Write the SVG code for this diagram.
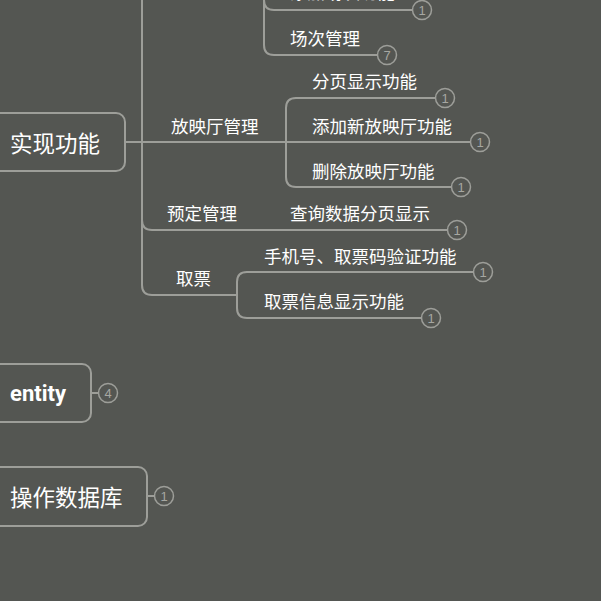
<svg xmlns="http://www.w3.org/2000/svg" width="601" height="601" viewBox="0 0 601 601">
<style>
.ln{fill:none;stroke:#9d9e99;stroke-width:2;stroke-linecap:round;stroke-linejoin:round}
.node{fill:#545652;stroke:#9d9e99;stroke-width:2}
.cnt{fill:#545652;stroke:#9d9e99;stroke-width:1.5}
.num{fill:#a6a7a2;font-family:"Liberation Sans",Arial,sans-serif;font-size:13px;text-anchor:middle;dominant-baseline:central}
.lbl{fill:#ffffff;font-family:"Noto Sans CJK SC","Microsoft YaHei",sans-serif;font-size:17.5px;dominant-baseline:central}
.big{fill:#ffffff;font-family:"Noto Sans CJK SC","Microsoft YaHei",sans-serif;font-size:22.5px;dominant-baseline:central}
</style>
<rect width="601" height="601" fill="#545652"/>
<g id="connectors">
<path class="ln" d="M125,142 H142"/>
<path class="ln" d="M142,-5 V285 Q142,295 152,295 H237"/>
<path class="ln" d="M142,142 H286"/>
<path class="ln" d="M142,220 Q142,230 152,230 H447"/>
<path class="ln" d="M264,-5 V45 Q264,55 274,55 H378"/>
<path class="ln" d="M264,0 Q264,10 274,10 H413"/>
<path class="ln" d="M296,98 Q286,98 286,108 V177 Q286,187 296,187 H452"/>
<path class="ln" d="M296,98 H436"/>
<path class="ln" d="M286,142 H471"/>
<path class="ln" d="M247,272 Q237,272 237,282 V308 Q237,318 247,318 H422"/>
<path class="ln" d="M247,272 H474"/>
<path class="ln" d="M91,393 H99"/>
<path class="ln" d="M147,496 H155"/>
</g>
<g id="n-top">
<text class="lbl" x="290" y="-8.5">添加场次功能</text>
<circle class="cnt" cx="422" cy="10" r="9.5"/><text class="num" x="422" y="10">1</text>
</g>
<g id="n-changci">
<text class="lbl" x="290" y="37">场次管理</text>
<circle class="cnt" cx="387" cy="55" r="9.5"/><text class="num" x="387" y="55">7</text>
</g>
<g id="n-shixian">
<rect class="node" x="-10" y="113" width="135" height="58" rx="9"/>
<text class="big" x="10" y="142">实现功能</text>
</g>
<g id="n-fangyingting">
<text class="lbl" x="171" y="125">放映厅管理</text>
</g>
<g id="n-fenye">
<text class="lbl" x="312" y="80">分页显示功能</text>
<circle class="cnt" cx="445" cy="98" r="9.5"/><text class="num" x="445" y="98">1</text>
</g>
<g id="n-tianjia">
<text class="lbl" x="312" y="125">添加新放映厅功能</text>
<circle class="cnt" cx="480" cy="142" r="9.5"/><text class="num" x="480" y="142">1</text>
</g>
<g id="n-shanchu">
<text class="lbl" x="312" y="170">删除放映厅功能</text>
<circle class="cnt" cx="461" cy="187" r="9.5"/><text class="num" x="461" y="187">1</text>
</g>
<g id="n-yuding">
<text class="lbl" x="167" y="212">预定管理</text>
</g>
<g id="n-chaxun">
<text class="lbl" x="290" y="212">查询数据分页显示</text>
<circle class="cnt" cx="457" cy="230" r="9.5"/><text class="num" x="457" y="230">1</text>
</g>
<g id="n-qupiao">
<text class="lbl" x="176" y="277">取票</text>
</g>
<g id="n-shouji">
<text class="lbl" x="264" y="255">手机号、取票码验证功能</text>
<circle class="cnt" cx="483" cy="272" r="9.5"/><text class="num" x="483" y="272">1</text>
</g>
<g id="n-xinxi">
<text class="lbl" x="264" y="300">取票信息显示功能</text>
<circle class="cnt" cx="431" cy="318" r="9.5"/><text class="num" x="431" y="318">1</text>
</g>
<g id="n-entity">
<rect class="node" x="-10" y="364" width="101" height="58" rx="9"/>
<text x="10" y="393" fill="#ffffff" font-family="Roboto,'Liberation Sans',sans-serif" font-size="22" font-weight="bold" dominant-baseline="central">entity</text>
<circle class="cnt" cx="108" cy="393" r="9.5"/><text class="num" x="108" y="393">4</text>
</g>
<g id="n-caozuo">
<rect class="node" x="-10" y="467" width="157" height="59" rx="9"/>
<text class="big" x="10" y="496">操作数据库</text>
<circle class="cnt" cx="164" cy="496" r="9.5"/><text class="num" x="164" y="496">1</text>
</g>
</svg>
